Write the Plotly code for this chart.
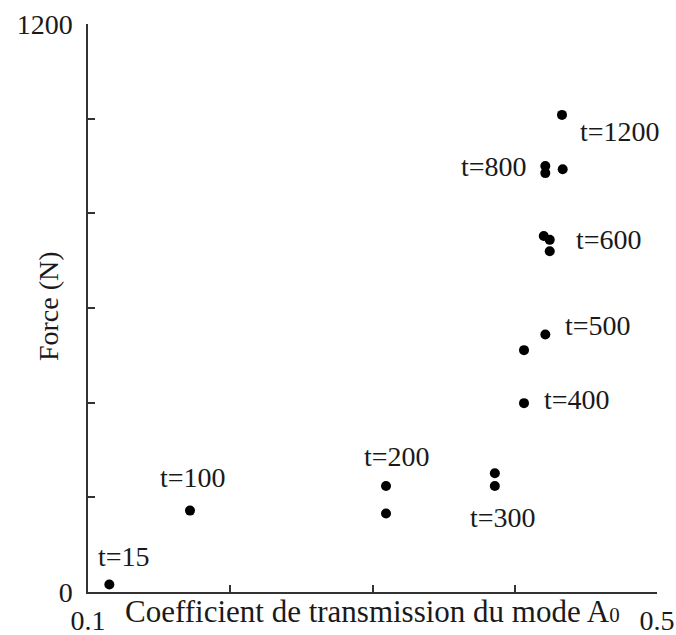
import plotly.graph_objects as go

# Data
coef = [0.115, 0.1717, 0.3095, 0.3095, 0.386, 0.386, 0.4065, 0.4065, 0.4215,
        0.4204, 0.4246, 0.4246, 0.4215, 0.4215, 0.4337, 0.4332]
force = [16, 172, 224, 166, 251, 224, 399, 511, 544,
         752, 744, 720, 900, 885, 893, 1008]

label_text = ["t=15", "t=100", "t=200", "t=300", "t=400", "t=500", "t=600", "t=800", "t=1200"]
label_x = [0.1253, 0.1738, 0.3172, 0.3917, 0.4438, 0.4585, 0.4663, 0.3854, 0.474]
label_y = [74, 241, 287, 158, 406, 564, 744, 898, 972]

x_ticks = [0.1, 0.2, 0.3, 0.4, 0.5]
x_ticktext = ["0.1", "", "", "", "0.5"]
y_ticks = [0, 200, 400, 600, 800, 1000, 1200]
y_ticktext = ["0", "", "", "", "", "", "1200"]

FONT = "Liberation Serif"
INK = "#1a1a1a"
AX = "#333333"

fig = go.Figure()
fig.add_trace(go.Scatter(
    x=coef, y=force, mode="markers",
    marker=dict(size=10, color="black"),
    cliponaxis=False, showlegend=False,
))

for t, lx, ly in zip(label_text, label_x, label_y):
    fig.add_annotation(x=lx, y=ly, xref="x", yref="y", text=t, showarrow=False,
                       font=dict(family=FONT, size=28, color=INK),
                       xanchor="center", yanchor="middle")

fig.add_annotation(x=0.5, y=-0.034, xref="paper", yref="paper",
                   text="Coefficient de transmission du mode A<span style='font-size:21px'>0</span>",
                   showarrow=False, font=dict(family=FONT, size=31, color=INK),
                   xanchor="center", yanchor="middle")
fig.add_annotation(x=-0.069, y=0.503, xref="paper", yref="paper",
                   text="Force (N)", textangle=-90, showarrow=False,
                   font=dict(family=FONT, size=28, color=INK),
                   xanchor="center", yanchor="middle")

fig.update_layout(
    width=676, height=635,
    margin=dict(l=88, r=19, t=24, b=43),
    paper_bgcolor="white", plot_bgcolor="white",
    font=dict(family=FONT, size=28, color=INK),
    xaxis=dict(range=[0.1, 0.5], tickvals=x_ticks, ticktext=x_ticktext,
               ticks="inside", ticklen=7, tickwidth=1.5, tickcolor=AX,
               showline=True, linecolor=AX, linewidth=1.5, automargin=False,
               showgrid=False, zeroline=False, ticklabelstandoff=3),
    yaxis=dict(range=[0, 1200], tickvals=y_ticks, ticktext=y_ticktext,
               ticks="inside", ticklen=7, tickwidth=1.5, tickcolor=AX,
               showline=True, linecolor=AX, linewidth=1.5, automargin=False,
               showgrid=False, zeroline=False, ticklabelstandoff=8),
)

fig.write_html("out.html", config={"displayModeBar": False},
               post_script="document.body.style.margin='0';document.body.style.overflow='hidden';")
